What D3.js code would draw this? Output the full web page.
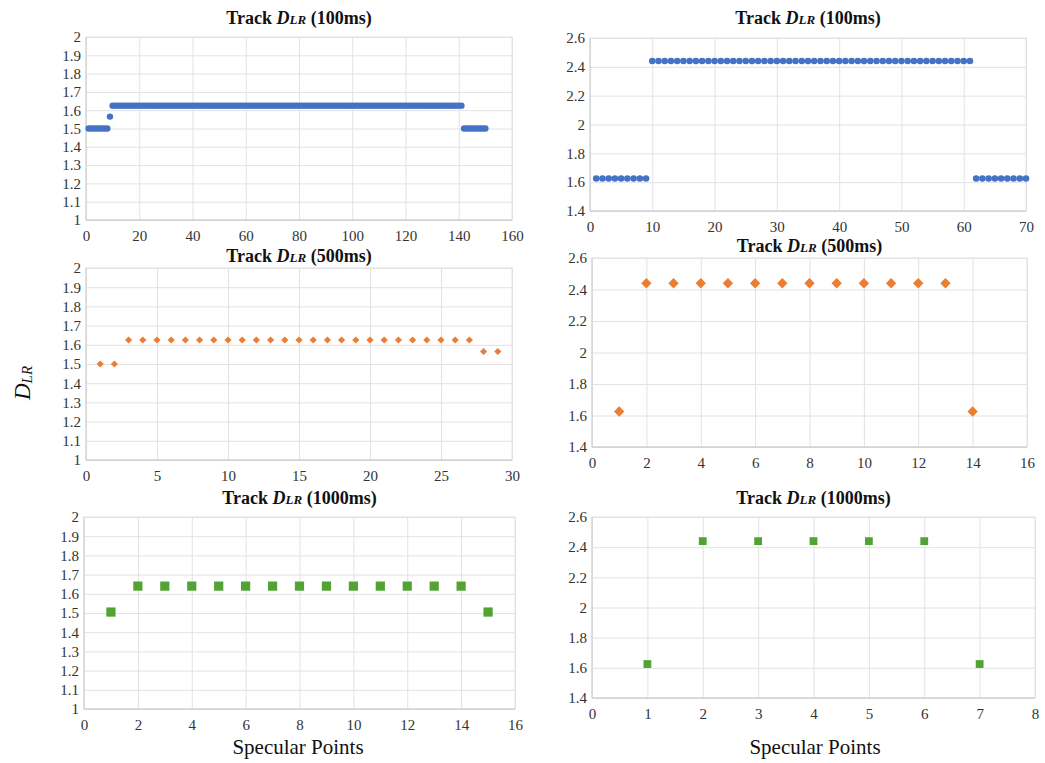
<!DOCTYPE html>
<html>
<head>
<meta charset="utf-8">
<script src="https://cdn.jsdelivr.net/npm/d3@7"></script>
<style>
  body { margin: 0; background: #fff; }
  svg { display: block; }
  .grid line { stroke: #e2e2e2; stroke-width: 1; }
</style>
</head>
<body>
<div id="chart"></div>
<script>
// D_LR values per specular point (x = 1, 2, 3, ...)
const dlr100Left = [
  1.5, 1.5, 1.5, 1.5, 1.5, 1.5, 1.5, 1.5,
  1.565,
  1.625, 1.625, 1.625, 1.625, 1.625, 1.625, 1.625, 1.625, 1.625, 1.625, 1.625, 1.625,
  1.625, 1.625, 1.625, 1.625, 1.625, 1.625, 1.625, 1.625, 1.625, 1.625, 1.625, 1.625,
  1.625, 1.625, 1.625, 1.625, 1.625, 1.625, 1.625, 1.625, 1.625, 1.625, 1.625, 1.625,
  1.625, 1.625, 1.625, 1.625, 1.625, 1.625, 1.625, 1.625, 1.625, 1.625, 1.625, 1.625,
  1.625, 1.625, 1.625, 1.625, 1.625, 1.625, 1.625, 1.625, 1.625, 1.625, 1.625, 1.625,
  1.625, 1.625, 1.625, 1.625, 1.625, 1.625, 1.625, 1.625, 1.625, 1.625, 1.625, 1.625,
  1.625, 1.625, 1.625, 1.625, 1.625, 1.625, 1.625, 1.625, 1.625, 1.625, 1.625, 1.625,
  1.625, 1.625, 1.625, 1.625, 1.625, 1.625, 1.625, 1.625, 1.625, 1.625, 1.625, 1.625,
  1.625, 1.625, 1.625, 1.625, 1.625, 1.625, 1.625, 1.625, 1.625, 1.625, 1.625, 1.625,
  1.625, 1.625, 1.625, 1.625, 1.625, 1.625, 1.625, 1.625, 1.625, 1.625, 1.625, 1.625,
  1.625, 1.625, 1.625, 1.625, 1.625, 1.625, 1.625, 1.625, 1.625, 1.625, 1.625, 1.625,
  1.5, 1.5, 1.5, 1.5, 1.5, 1.5, 1.5, 1.5, 1.5
]
const dlr100Right = [
  1.625, 1.625, 1.625, 1.625, 1.625, 1.625, 1.625, 1.625, 1.625,
  2.44, 2.44, 2.44, 2.44, 2.44, 2.44, 2.44, 2.44, 2.44, 2.44, 2.44, 2.44, 2.44,
  2.44, 2.44, 2.44, 2.44, 2.44, 2.44, 2.44, 2.44, 2.44, 2.44, 2.44, 2.44, 2.44,
  2.44, 2.44, 2.44, 2.44, 2.44, 2.44, 2.44, 2.44, 2.44, 2.44, 2.44, 2.44, 2.44,
  2.44, 2.44, 2.44, 2.44, 2.44, 2.44, 2.44, 2.44, 2.44, 2.44, 2.44, 2.44, 2.44,
  1.625, 1.625, 1.625, 1.625, 1.625, 1.625, 1.625, 1.625, 1.625
]
const dlr500Left = [
  1.5, 1.5,
  1.625, 1.625, 1.625, 1.625, 1.625, 1.625, 1.625, 1.625, 1.625, 1.625, 1.625, 1.625, 1.625,
  1.625, 1.625, 1.625, 1.625, 1.625, 1.625, 1.625, 1.625, 1.625, 1.625, 1.625, 1.625,
  1.565, 1.565
]
const dlr500Right = [1.625, 2.44, 2.44, 2.44, 2.44, 2.44, 2.44, 2.44, 2.44, 2.44, 2.44, 2.44, 2.44, 1.625]
const dlr1000Left = [1.505, 1.64, 1.64, 1.64, 1.64, 1.64, 1.64, 1.64, 1.64, 1.64, 1.64, 1.64, 1.64, 1.64, 1.505]
const dlr1000Right = [1.625, 2.44, 2.44, 2.44, 2.44, 2.44, 1.625]

// tick values
const yTicksLeft = [1, 1.1, 1.2, 1.3, 1.4, 1.5, 1.6, 1.7, 1.8, 1.9, 2]
const yTicksRight = [1.4, 1.6, 1.8, 2, 2.2, 2.4, 2.6]
const xTicks100Left = [0, 20, 40, 60, 80, 100, 120, 140, 160]
const xTicks100Right = [0, 10, 20, 30, 40, 50, 60, 70]
const xTicks500Left = [0, 5, 10, 15, 20, 25, 30]
const xTicks500Right = [0, 2, 4, 6, 8, 10, 12, 14, 16]
const xTicks1000Left = [0, 2, 4, 6, 8, 10, 12, 14, 16]
const xTicks1000Right = [0, 1, 2, 3, 4, 5, 6, 7, 8]

const titles = ['100ms', '100ms', '500ms', '500ms', '1000ms', '1000ms']

const SERIF = '"Liberation Serif", "DejaVu Serif", serif'
const BLUE = '#4472c4'
const ORANGE = '#ed7d31'
const GREEN = '#52a334'

const svg = d3.select('#chart').append('svg')
  .attr('width', 1045)
  .attr('height', 763)
  .style('font-family', SERIF)

const panels = [
  { values: dlr100Left, xt: xTicks100Left, yt: yTicksLeft, left: 86, right: 512, top: 37, bottom: 220, titleY: 24,
    color: BLUE, shape: 'circle', size: 3.2 },
  { values: dlr100Right, xt: xTicks100Right, yt: yTicksRight, left: 590, right: 1026, top: 38, bottom: 211, titleY: 24,
    color: BLUE, shape: 'circle', size: 3.3 },
  { values: dlr500Left, xt: xTicks500Left, yt: yTicksLeft, left: 86, right: 512, top: 268, bottom: 460, titleY: 262,
    color: ORANGE, shape: 'diamond', size: 3.6 },
  { values: dlr500Right, xt: xTicks500Right, yt: yTicksRight, left: 592, right: 1027, top: 258, bottom: 447, titleY: 252,
    color: ORANGE, shape: 'diamond', size: 5.2 },
  { values: dlr1000Left, xt: xTicks1000Left, yt: yTicksLeft, left: 84, right: 515, top: 517, bottom: 709, titleY: 504,
    color: GREEN, shape: 'square', size: 4.6 },
  { values: dlr1000Right, xt: xTicks1000Right, yt: yTicksRight, left: 592, right: 1035, top: 517, bottom: 698, titleY: 504,
    color: GREEN, shape: 'square', size: 3.9 }
]

const fmt = d => String(+d.toFixed(1))

const styleTicks = a => {
  a.attr('font-family', null).attr('font-size', null)
  a.select('.domain').remove()
  a.selectAll('.tick text')
    .style('font-family', SERIF)
    .style('font-size', '15px')
    .attr('fill', '#333')
}

panels.forEach((p, i) => {
  const x = d3.scaleLinear()
    .domain([p.xt[0], p.xt[p.xt.length - 1]])
    .range([p.left, p.right])
  const y = d3.scaleLinear()
    .domain([p.yt[0], p.yt[p.yt.length - 1]])
    .range([p.bottom, p.top])

  const g = svg.append('g')

  // horizontal grid + y labels
  g.append('g')
    .attr('class', 'grid')
    .attr('transform', `translate(${p.left},0)`)
    .call(d3.axisLeft(y).tickValues(p.yt).tickFormat(fmt).tickSize(-(p.right - p.left)).tickPadding(5))
    .call(styleTicks)

  // vertical grid + x labels
  g.append('g')
    .attr('class', 'grid')
    .attr('transform', `translate(0,${p.bottom})`)
    .call(d3.axisBottom(x).tickValues(p.xt).tickSize(-(p.bottom - p.top)).tickPadding(6))
    .call(styleTicks)
    .call(a => a.selectAll('.tick text').attr('dy', '1em'))

  // plot border and axis lines
  g.append('rect')
    .attr('x', p.left).attr('y', p.top)
    .attr('width', p.right - p.left).attr('height', p.bottom - p.top)
    .attr('fill', 'none').attr('stroke', '#e2e2e2')
  g.append('line')
    .attr('x1', p.left).attr('x2', p.right)
    .attr('y1', p.bottom).attr('y2', p.bottom)
    .attr('stroke', '#c8c8c8')
  g.append('line')
    .attr('x1', p.left).attr('x2', p.left)
    .attr('y1', p.top).attr('y2', p.bottom)
    .attr('stroke', '#d0d0d0')

  // title
  const t = g.append('text')
    .attr('x', (p.left + p.right) / 2)
    .attr('y', p.titleY)
    .attr('text-anchor', 'middle')
    .attr('font-weight', 'bold')
    .attr('font-size', 18)
    .attr('fill', '#111')
  t.append('tspan').text('Track ')
  t.append('tspan').attr('font-style', 'italic').text('D')
  t.append('tspan').attr('font-style', 'italic').attr('font-size', 13).text('LR')
  t.append('tspan').text(' (' + titles[i] + ')')

  // markers
  const pts = p.values.map((v, k) => ({ x: k + 1, y: v }))
  const marks = g.append('g')
  if (p.shape === 'circle') {
    marks.selectAll('circle').data(pts).join('circle')
      .attr('cx', d => x(d.x)).attr('cy', d => y(d.y))
      .attr('r', p.size).attr('fill', p.color)
  } else if (p.shape === 'diamond') {
    marks.selectAll('rect').data(pts).join('rect')
      .attr('x', -p.size / Math.SQRT2).attr('y', -p.size / Math.SQRT2)
      .attr('width', p.size * Math.SQRT2).attr('height', p.size * Math.SQRT2)
      .attr('transform', d => `translate(${x(d.x)},${y(d.y)}) rotate(45)`)
      .attr('fill', p.color)
  } else {
    marks.selectAll('rect').data(pts).join('rect')
      .attr('x', d => x(d.x) - p.size).attr('y', d => y(d.y) - p.size)
      .attr('width', p.size * 2).attr('height', p.size * 2)
      .attr('fill', p.color)
  }
})

// axis titles
const yl = svg.append('text')
  .attr('transform', 'translate(30,383) rotate(-90)')
  .attr('text-anchor', 'middle')
  .attr('font-size', 23)
  .attr('font-style', 'italic')
  .attr('fill', '#111')
yl.append('tspan').text('D')
yl.append('tspan').attr('font-size', 15).attr('dy', 2).text('LR')

svg.append('text')
  .attr('x', 298).attr('y', 754)
  .attr('text-anchor', 'middle')
  .attr('font-size', 21)
  .attr('fill', '#111')
  .text('Specular Points')

svg.append('text')
  .attr('x', 815).attr('y', 754)
  .attr('text-anchor', 'middle')
  .attr('font-size', 21)
  .attr('fill', '#111')
  .text('Specular Points')
</script>
</body>
</html>
